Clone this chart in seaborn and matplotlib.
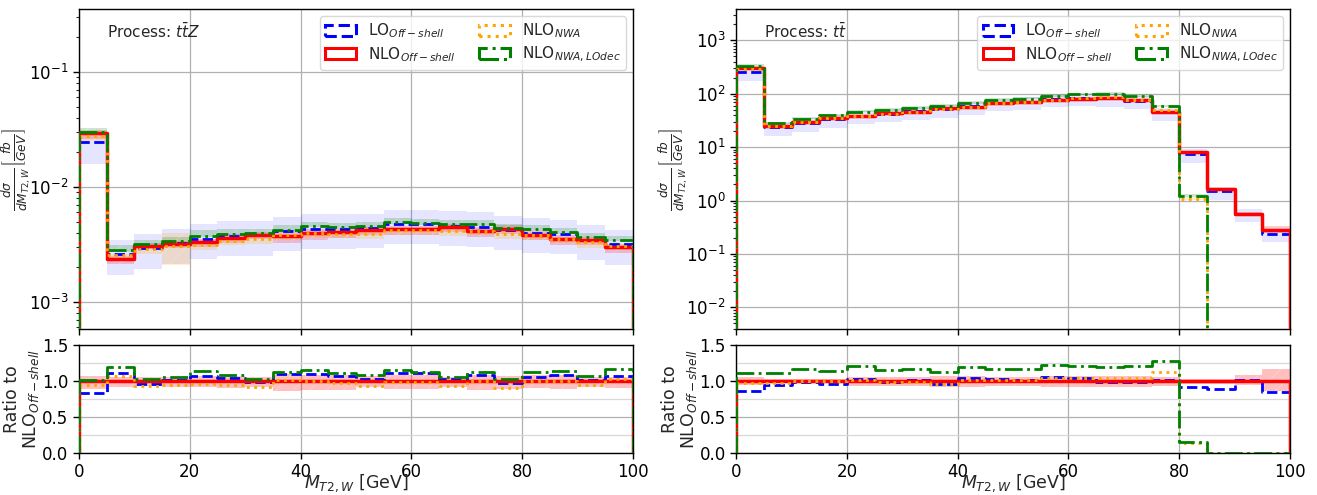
import numpy as np
import pandas as pd
import matplotlib
matplotlib.use("Agg")
import matplotlib.pyplot as plt
import seaborn as sns
from matplotlib.patches import Patch
from matplotlib.ticker import LogLocator, NullFormatter, FixedLocator

# ---------------- data ----------------
bin_edges = [0, 5, 10, 15, 20, 25, 30, 35, 40, 45, 50, 55, 60, 65, 70, 75, 80, 85, 90, 95, 100]
x_ticks = [0, 20, 40, 60, 80, 100]
ratio_ticks = [0.0, 0.5, 1.0, 1.5]
ratio_minor = [0.25, 0.75, 1.25]

# Process ttZ  (dsigma/dM_T2,W in fb/GeV)
ttz_nlo_off = [0.0293, 0.00237, 0.00309, 0.00322, 0.00330, 0.00363, 0.00385, 0.00375, 0.00398, 0.00405,
               0.00423, 0.00428, 0.00428, 0.00448, 0.00418, 0.00434, 0.00382, 0.00355, 0.00346, 0.00299]
ttz_lo_off = [0.0246, 0.00263, 0.00294, 0.00325, 0.00353, 0.00378, 0.00381, 0.00413, 0.00434, 0.00433,
              0.00436, 0.00475, 0.00475, 0.00461, 0.00451, 0.00421, 0.00401, 0.00387, 0.00349, 0.00320]
ttz_nlo_nwa = [0.0275, 0.00254, 0.00287, 0.00306, 0.00314, 0.00341, 0.00354, 0.00379, 0.00396, 0.00393,
               0.00393, 0.00419, 0.00419, 0.00417, 0.00416, 0.00391, 0.00382, 0.00355, 0.00329, 0.00308]
ttz_nlo_nwa_lodec = [0.0299, 0.00282, 0.00318, 0.00338, 0.00376, 0.00392, 0.00397, 0.00424, 0.00458, 0.00450,
                     0.00457, 0.00496, 0.00484, 0.00475, 0.00472, 0.00443, 0.00428, 0.00405, 0.00370, 0.00347]
# relative scale uncertainties (up, down)
ttz_lo_up = [0.22, 0.32, 0.33, 0.33, 0.34, 0.33, 0.34, 0.34, 0.33, 0.34, 0.34, 0.33, 0.33, 0.34, 0.34, 0.33, 0.33, 0.34, 0.34, 0.33]
ttz_lo_dn = [0.35, 0.35, 0.34, 0.34, 0.33, 0.33, 0.34, 0.33, 0.33, 0.33, 0.33, 0.33, 0.33, 0.34, 0.33, 0.33, 0.34, 0.33, 0.34, 0.34]
ttz_nlo_up = [0.07, 0.06, 0.05, 0.06, 0.07, 0.07, 0.06, 0.10, 0.09, 0.08, 0.07, 0.08, 0.08, 0.06, 0.08, 0.07, 0.08, 0.08, 0.06, 0.06]
ttz_nlo_dn = [0.11, 0.09, 0.07, 0.08, 0.09, 0.10, 0.08, 0.14, 0.13, 0.12, 0.09, 0.11, 0.11, 0.09, 0.12, 0.11, 0.10, 0.11, 0.09, 0.10]
ttz_nwa_up = [0.04, 0.03, 0.03, 0.30, 0.04, 0.03, 0.03, 0.04, 0.03, 0.03, 0.04, 0.03, 0.03, 0.04, 0.03, 0.03, 0.03, 0.04, 0.03, 0.03]
ttz_nwa_dn = [0.08, 0.08, 0.09, 0.32, 0.10, 0.09, 0.10, 0.09, 0.10, 0.09, 0.10, 0.09, 0.09, 0.10, 0.09, 0.09, 0.10, 0.09, 0.10, 0.09]
ttz_lodec_up = [0.08, 0.12, 0.09, 0.08, 0.12, 0.09, 0.08, 0.10, 0.09, 0.08, 0.09, 0.08, 0.08, 0.08, 0.09, 0.08, 0.09, 0.08, 0.08, 0.09]
ttz_lodec_dn = [0.03, 0.04, 0.03, 0.03, 0.03, 0.03, 0.03, 0.03, 0.03, 0.03, 0.03, 0.03, 0.03, 0.03, 0.03, 0.03, 0.03, 0.03, 0.03, 0.03]

# Process tt
tt_nlo_off = [299, 25.4, 29.3, 34.8, 38.0, 43.3, 46.5, 53.0, 56.1, 65.8,
              69.7, 74.9, 80.5, 82.9, 74.9, 45.2, 8.11, 1.68, 0.553, 0.281]
tt_lo_off = [257, 23.9, 28.7, 33.4, 39.1, 42.4, 47.4, 50.9, 58.3, 67.8,
             71.1, 79.4, 83.7, 82.1, 74.2, 45.7, 7.46, 1.50, 0.564, 0.239]
tt_nlo_nwa = [290, 24.6, 29.3, 34.8, 38.4, 42.4, 46.0, 50.9, 57.2, 67.1,
              70.4, 77.9, 83.7, 86.2, 77.9, 50.6, 1.09, 0.0, 0.0, 0.0]
tt_nlo_nwa_lodec = [332, 28.2, 34.3, 39.7, 46.0, 49.8, 54.4, 59.9, 67.3, 77.0,
                    80.9, 91.4, 97.4, 98.7, 90.6, 57.9, 1.22, 0.0, 0.0, 0.0]
tt_lo_up = [0.20, 0.20, 0.20, 0.20, 0.20, 0.20, 0.20, 0.20, 0.20, 0.20, 0.20, 0.20, 0.20, 0.20, 0.20, 0.20, 0.25, 0.22, 0.22, 0.22]
tt_lo_dn = [0.32, 0.33, 0.32, 0.32, 0.31, 0.31, 0.31, 0.30, 0.30, 0.30, 0.30, 0.30, 0.30, 0.30, 0.30, 0.31, 0.32, 0.31, 0.30, 0.30]
tt_nlo_up = [0.05, 0.03, 0.03, 0.03, 0.06, 0.06, 0.06, 0.07, 0.07, 0.06, 0.06, 0.07, 0.07, 0.07, 0.07, 0.06, 0.03, 0.03, 0.09, 0.17]
tt_nlo_dn = [0.05, 0.03, 0.03, 0.03, 0.07, 0.07, 0.07, 0.08, 0.08, 0.07, 0.07, 0.08, 0.08, 0.08, 0.08, 0.07, 0.04, 0.04, 0.06, 0.14]
tt_nwa_up = [0.03, 0.03, 0.03, 0.03, 0.03, 0.03, 0.03, 0.03, 0.03, 0.03, 0.03, 0.03, 0.03, 0.03, 0.03, 0.03, 0.05, 0.0, 0.0, 0.0]
tt_nwa_dn = [0.04, 0.04, 0.04, 0.04, 0.04, 0.04, 0.04, 0.04, 0.04, 0.04, 0.04, 0.04, 0.04, 0.04, 0.04, 0.04, 0.05, 0.0, 0.0, 0.0]
tt_lodec_up = [0.07, 0.07, 0.07, 0.07, 0.07, 0.07, 0.07, 0.07, 0.07, 0.07, 0.07, 0.07, 0.07, 0.07, 0.07, 0.07, 0.08, 0.0, 0.0, 0.0]
tt_lodec_dn = [0.03, 0.03, 0.03, 0.03, 0.03, 0.03, 0.03, 0.03, 0.03, 0.03, 0.03, 0.03, 0.03, 0.03, 0.03, 0.03, 0.03, 0.0, 0.0, 0.0]

series_labels = [r"LO$_{Off-shell}$", r"NLO$_{Off-shell}$", r"NLO$_{NWA}$", r"NLO$_{NWA,LOdec}$"]
series_colors = ["blue", "red", "orange", "green"]
series_styles = ["--", "-", ":", "-."]
series_widths = [2.0, 2.5, 2.0, 2.0]
band_alphas = [0.10, 0.20, 0.20, 0.20]

panels = [
    dict(title=r"Process: $t\bar{t}Z$",
         vals=[ttz_lo_off, ttz_nlo_off, ttz_nlo_nwa, ttz_nlo_nwa_lodec],
         ups=[ttz_lo_up, ttz_nlo_up, ttz_nwa_up, ttz_lodec_up],
         dns=[ttz_lo_dn, ttz_nlo_dn, ttz_nwa_dn, ttz_lodec_dn],
         ylim=(5.8e-4, 0.35)),
    dict(title=r"Process: $t\bar{t}$",
         vals=[tt_lo_off, tt_nlo_off, tt_nlo_nwa, tt_nlo_nwa_lodec],
         ups=[tt_lo_up, tt_nlo_up, tt_nwa_up, tt_lodec_up],
         dns=[tt_lo_dn, tt_nlo_dn, tt_nwa_dn, tt_lodec_dn],
         ylim=(3.9e-3, 3800)),
]

# ---------------- style ----------------
sns.set_theme(style="ticks")
plt.rcParams["font.family"] = ["DejaVu Sans"]
plt.rcParams["hatch.linewidth"] = 0.6
plt.rcParams["xtick.labelsize"] = 12
plt.rcParams["ytick.labelsize"] = 12

edges = np.array(bin_edges, dtype=float)
centers = 0.5 * (edges[:-1] + edges[1:])

fig = plt.figure(figsize=(13.17, 4.95), dpi=100)
lefts = [0.060, 0.559]
width = 0.4205


def draw_steps(ax, values, color, ls, lw, z, bottom):
    df = pd.DataFrame({"x": centers, "w": np.asarray(values, dtype=float)})
    sns.histplot(data=df, x="x", weights="w", bins=list(bin_edges), element="step", fill=False,
                 color=color, linestyle=ls, linewidth=lw, ax=ax, zorder=z, legend=False)
    ax.vlines([edges[0], edges[-1]], bottom, [values[0], values[-1]],
              colors=color, linestyles=ls, linewidth=lw, zorder=z)


for p, left in zip(panels, lefts):
    ax = fig.add_axes([left, 0.335, width, 0.646])
    rax = fig.add_axes([left, 0.085, width, 0.218])
    ax.set_yscale("log")
    ax.set_ylim(*p["ylim"])
    rax.set_ylim(0, 1.5)

    ref = np.array(p["vals"][1], dtype=float)
    ref_up = np.array(p["ups"][1])
    ref_dn = np.array(p["dns"][1])

    # uncertainty bands (top panel)
    for k in range(4):
        v = np.array(p["vals"][k], dtype=float)
        hi = v * (1 + np.array(p["ups"][k]))
        lo = v * (1 - np.array(p["dns"][k]))
        ax.stairs(hi, edges, baseline=lo, fill=True, facecolor=series_colors[k],
                  alpha=band_alphas[k], hatch="//", edgecolor="white", linewidth=0, zorder=1 + k * 0.1)
    # ratio band
    rax.stairs(1 + ref_up, edges, baseline=1 - ref_dn, fill=True, facecolor="red", alpha=0.25,
               hatch="//", edgecolor="white", linewidth=0, zorder=1)

    # central lines
    for k in range(4):
        v = np.array(p["vals"][k], dtype=float)
        draw_steps(ax, v, series_colors[k], series_styles[k], series_widths[k], 3 + k, p["ylim"][0])
        draw_steps(rax, v / ref, series_colors[k], series_styles[k], series_widths[k], 3 + k, 0)

    ax.set_ylim(*p["ylim"])
    rax.set_ylim(0, 1.5)
    for a in (ax, rax):
        a.set_xlim(edges[0], edges[-1])
        a.xaxis.set_major_locator(FixedLocator(x_ticks))
        a.grid(True, which="major", color="#b0b0b0", linewidth=0.9)
        for s in a.spines.values():
            s.set_color("black")
            s.set_linewidth(1.0)
        a.tick_params(axis="both", which="major", direction="out", length=4, width=1, colors="black",
                      labelcolor="black", labelsize=12)
        a.set_axisbelow(True)

    ax.yaxis.set_major_locator(LogLocator(base=10))
    ax.yaxis.set_minor_locator(LogLocator(base=10, subs=np.arange(2, 10)))
    ax.yaxis.set_minor_formatter(NullFormatter())
    ax.tick_params(axis="y", which="minor", length=2.5, width=0.8, direction="out", left=True)
    ax.tick_params(axis="x", labelbottom=False)
    ax.set_xlabel("")
    ax.set_ylabel(r"$\frac{d\sigma}{dM_{T2,W}}\left[\frac{fb}{GeV}\right]$", fontsize=12.5)
    ax.yaxis.set_label_coords(-0.083, 0.5)
    ax.text(0.05, 0.93, p["title"], transform=ax.transAxes, fontsize=11, va="center", ha="left")

    handles = [Patch(facecolor="none", edgecolor=series_colors[k], linestyle=series_styles[k],
                     linewidth=2.2) for k in range(4)]
    ax.legend(handles, series_labels, ncol=2, loc="upper right", fontsize=11, frameon=True,
              framealpha=0.8, edgecolor="#d0d0d0", handlelength=2.0, columnspacing=1.5,
              labelspacing=0.3, borderpad=0.35, borderaxespad=0.45)

    rax.yaxis.set_major_locator(FixedLocator(ratio_ticks))
    rax.yaxis.set_minor_locator(FixedLocator(ratio_minor))
    rax.grid(True, which="minor", axis="y", color="#d8d8d8", linewidth=0.9)
    rax.tick_params(axis="y", which="minor", length=0)
    rax.set_xlabel(r"$M_{T2,W}$ [GeV]", fontsize=12.5)
    rax.xaxis.set_label_coords(0.5, -0.185)
    rax.set_ylabel("Ratio to\n" + r"NLO$_{Off-shell}$", fontsize=12.5, linespacing=1.0)
    rax.yaxis.set_label_coords(-0.068, 0.5)

fig.savefig("out.png", dpi=100)
